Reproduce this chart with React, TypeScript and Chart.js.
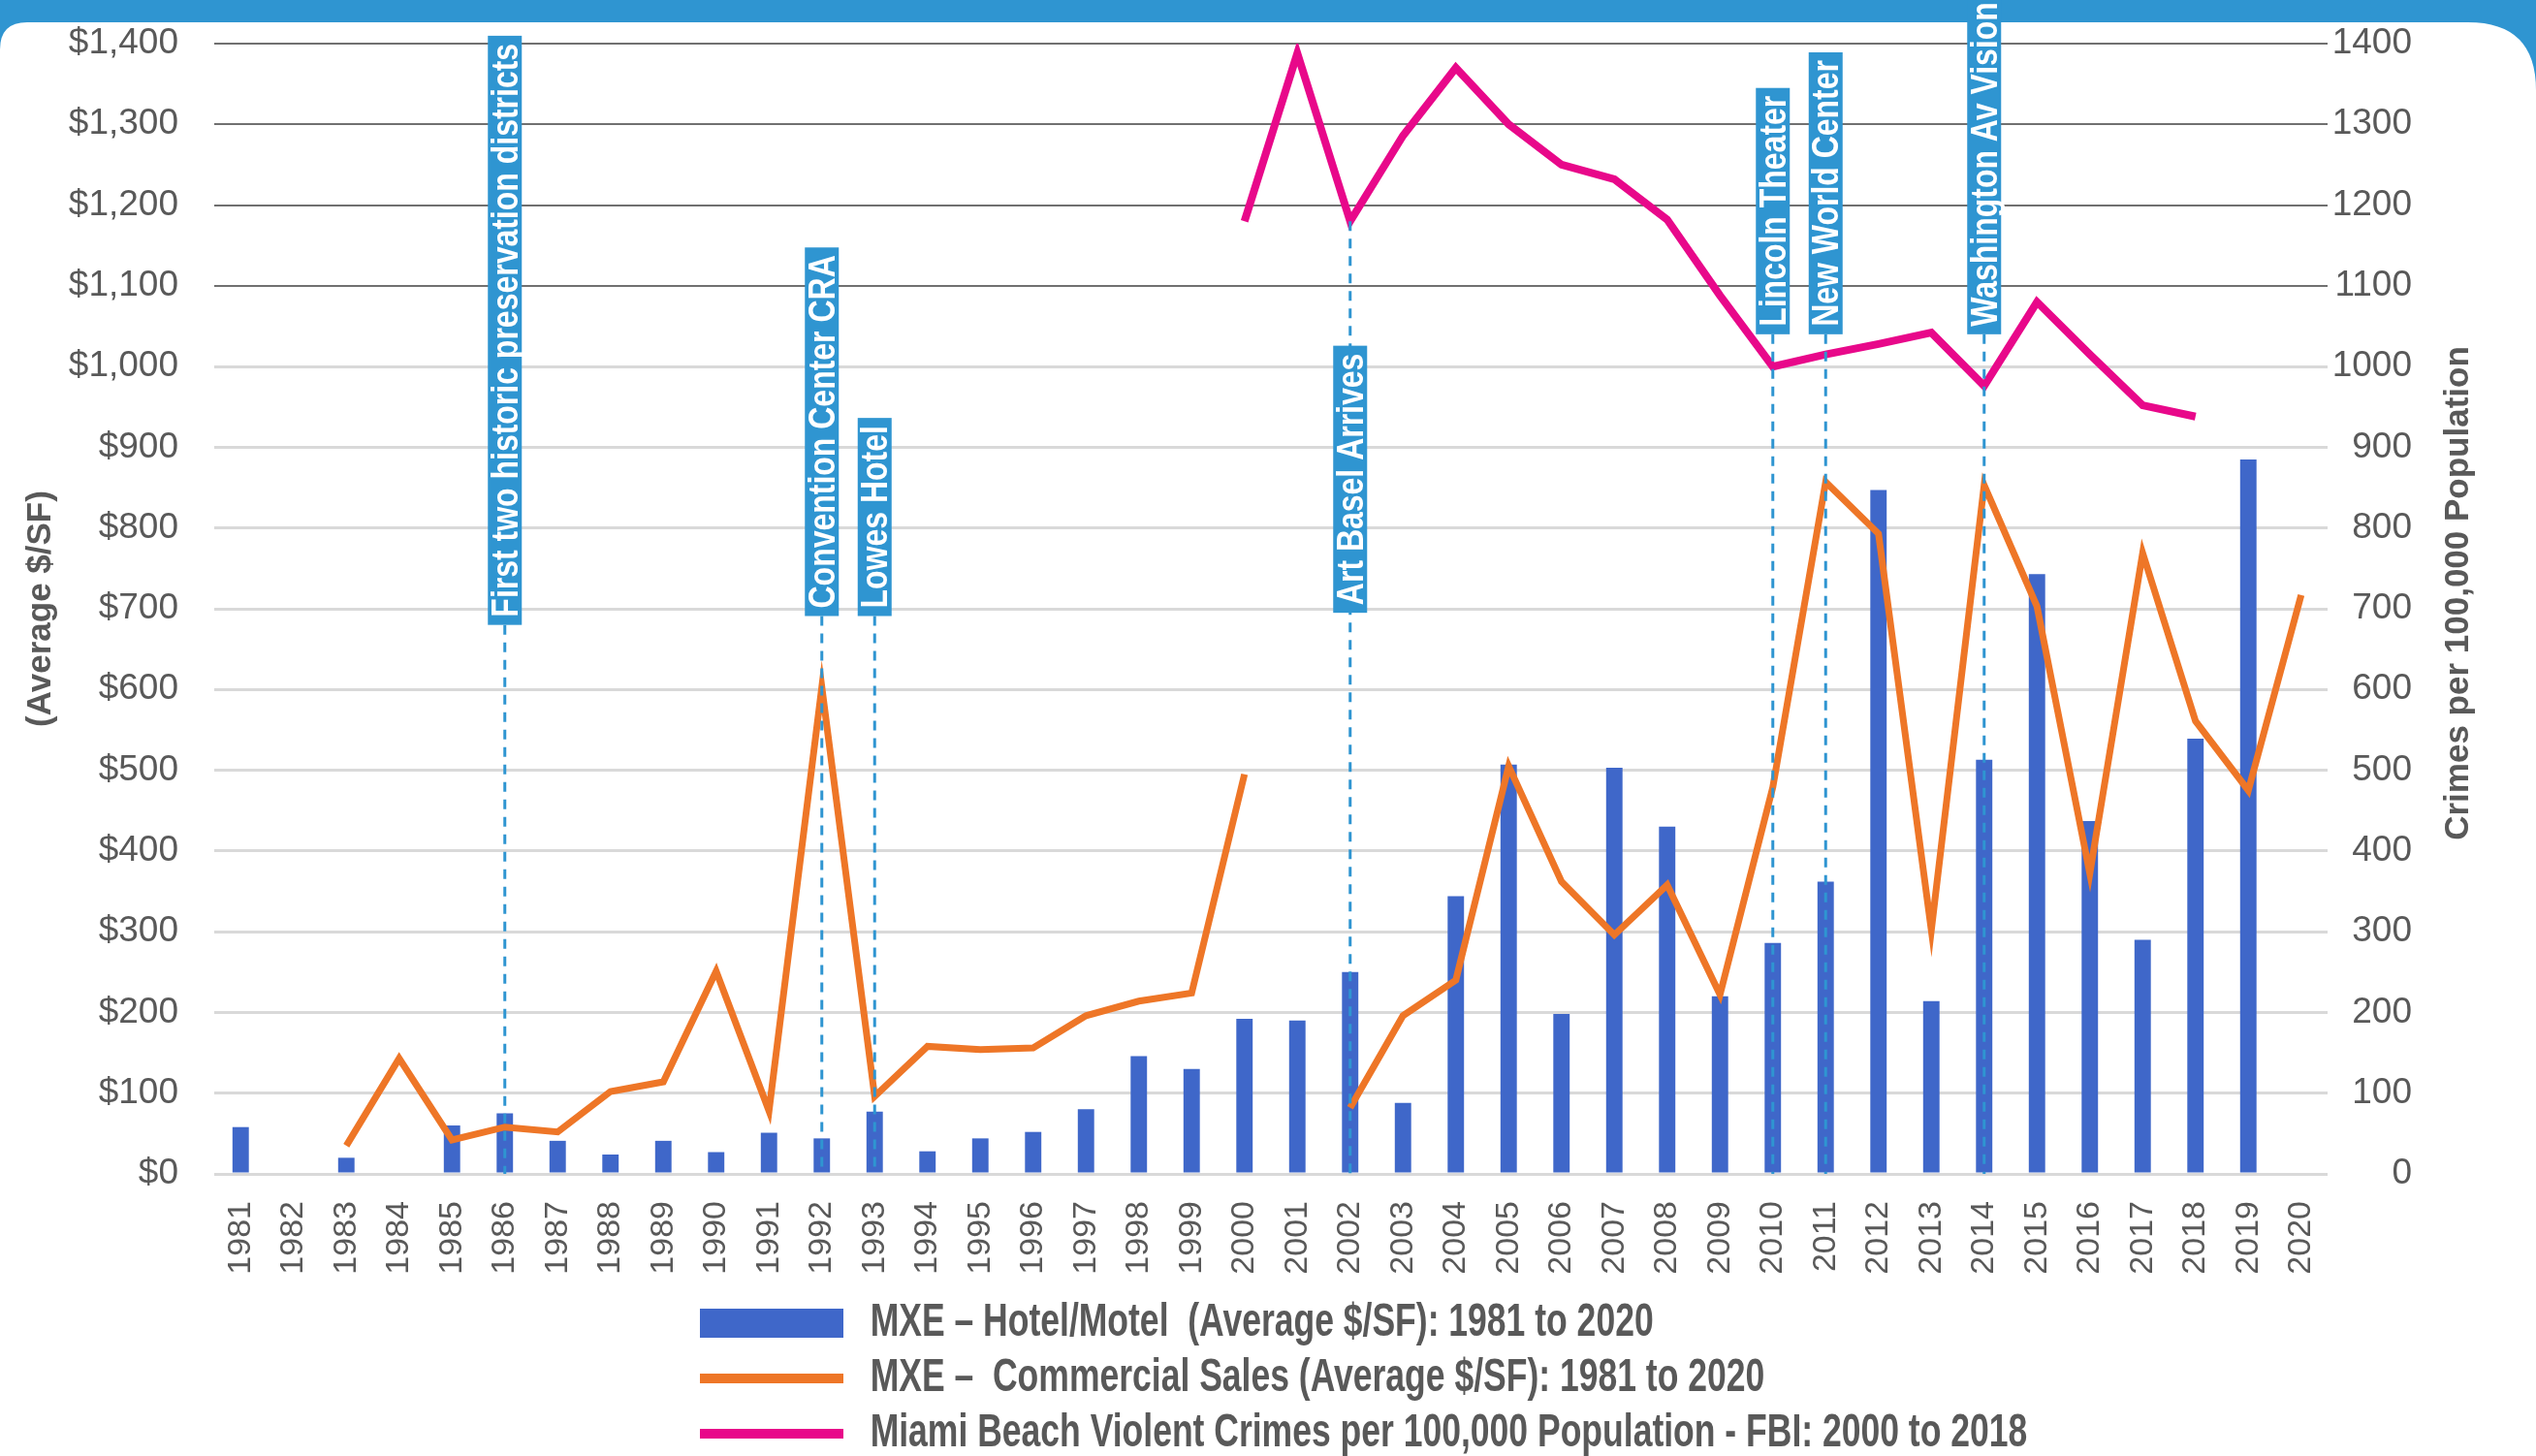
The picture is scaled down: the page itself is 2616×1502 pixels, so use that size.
import React, { useEffect, useRef } from 'react';
import { Chart, registerables } from 'chart.js';

Chart.register(...registerables);

const years = [
  '1981', '1982', '1983', '1984', '1985', '1986', '1987', '1988', '1989', '1990',
  '1991', '1992', '1993', '1994', '1995', '1996', '1997', '1998', '1999', '2000',
  '2001', '2002', '2003', '2004', '2005', '2006', '2007', '2008', '2009', '2010',
  '2011', '2012', '2013', '2014', '2015', '2016', '2017', '2018', '2019', '2020',
];

const hotelMotelValues = [
  58, null, 20, null, 60, 75, 41, 24, 41, 27,
  51, 44, 77, 28, 44, 52, 80, 146, 130, 192,
  190, 250, 88, 344, 507, 198, 503, 430, 220, 286,
  362, 847, 214, 513, 743, 437, 290, 539, 885, null,
];

const commercialValues = [
  null, null, 35, 143, 42, 58, 52, 102, 114, 251,
  78, 603, 96, 158, 154, 156, 196, 214, 224, 495,
  null, 82, 196, 240, 505, 362, 296, 358, 222, 479,
  857, 793, 302, 853, 703, 372, 769, 561, 475, 717,
];

const crimeValues = [
  null, null, null, null, null, null, null, null, null, null,
  null, null, null, null, null, null, null, null, null, 1180,
  1388, 1180, 1286, 1370, 1300, 1250, 1232, 1182, 1088, 1000,
  1015, 1028, 1042, 976, 1080, 1015, 952, 938, null, null,
];

const seriesLabels = [
  'MXE – Hotel/Motel  (Average $/SF): 1981 to 2020',
  'MXE –  Commercial Sales (Average $/SF): 1981 to 2020',
  'Miami Beach Violent Crimes per 100,000 Population - FBI: 2000 to 2018',
];

const leftAxisTitle = '(Average $/SF)';
const rightAxisTitle = 'Crimes per 100,000 Population';

const annotationYears = ['1986', '1992', '1993', '2002', '2010', '2011', '2014'];
const annotationTexts = [
  'First two historic preservation districts',
  'Convention Center CRA',
  'Lowes Hotel',
  'Art Basel Arrives',
  'Lincoln Theater',
  'New World Center',
  'Washington Av Vision',
];
const annotationBoxBottoms = [680, 691, 691, 695, 1040, 1040, 1040];
const annotationLineTops = [680, 691, 691, 1180, 1040, 1040, 1040];
const annotationAboveBanner = [false, false, false, false, false, false, true];

const GRAY = '#595959';
const BANNER_BLUE = '#2F95D1';
const BAR_BLUE = '#3F67C9';
const ORANGE = '#EE7627';
const PINK = '#E8088A';
const FONT_MAIN = '"Liberation Sans", Arial, sans-serif';

const LEGEND_LEFT = 722;
const LEGEND_SX = 0.74;
const LEGEND_SWATCH = 148;

export default function App() {
  const ref = useRef<HTMLCanvasElement>(null);

  useEffect(() => {
    document.body.style.margin = '0';
    const canvas = ref.current;
    if (!canvas) return;

    const drawBox = (chart: any, i: number) => {
      const ctx = chart.ctx;
      const xs = chart.scales.x;
      const ys = chart.scales.y;
      const idx = years.indexOf(annotationYears[i]);
      const x = xs.getPixelForValue(idx);
      const yb = ys.getPixelForValue(annotationBoxBottoms[i]);
      const fs = 39;
      const condense = 0.82;
      const pad = 8;
      const bw = 35;
      ctx.save();
      ctx.font = `bold ${fs}px ${FONT_MAIN}`;
      const tw = ctx.measureText(annotationTexts[i]).width * condense;
      const len = tw + pad * 2;
      ctx.fillStyle = BANNER_BLUE;
      ctx.fillRect(x - bw / 2, yb - len, bw, len);
      ctx.translate(x, yb - pad);
      ctx.rotate(-Math.PI / 2);
      ctx.scale(condense, 1);
      ctx.fillStyle = '#FFFFFF';
      ctx.textAlign = 'left';
      ctx.textBaseline = 'middle';
      ctx.fillText(annotationTexts[i], 0, 2);
      ctx.restore();
    };

    const overlayPlugin = {
      id: 'overlay',
      afterLayout(chart: any) {
        const lg = chart.legend;
        if (lg) {
          const padding = lg.options.labels.padding;
          lg.left = LEGEND_LEFT - padding;
          lg.right = 3000;
          lg.top += 11;
          lg.bottom += 11;
          const proto = Object.getPrototypeOf(lg);
          lg.draw = function (...args: any[]) {
            const ctx = this.ctx;
            ctx.save();
            ctx.translate(LEGEND_LEFT, 0);
            ctx.scale(LEGEND_SX, 1);
            ctx.translate(-LEGEND_LEFT, 0);
            proto.draw.apply(this, args);
            ctx.restore();
          };
        }
      },
      afterDatasetsDraw(chart: any) {
        const ctx = chart.ctx;
        const xs = chart.scales.x;
        const ys = chart.scales.y;
        const y0 = ys.getPixelForValue(0);
        ctx.save();
        ctx.strokeStyle = BANNER_BLUE;
        ctx.lineWidth = 3;
        ctx.setLineDash([10, 8]);
        annotationYears.forEach((yr, i) => {
          const x = xs.getPixelForValue(years.indexOf(yr));
          ctx.beginPath();
          ctx.moveTo(x, ys.getPixelForValue(annotationLineTops[i]));
          ctx.lineTo(x, y0);
          ctx.stroke();
        });
        ctx.restore();
        annotationYears.forEach((_, i) => {
          if (!annotationAboveBanner[i]) drawBox(chart, i);
        });
      },
      afterDraw(chart: any) {
        const ctx = chart.ctx;
        const W = chart.width;
        const bh = 23;
        ctx.save();
        ctx.fillStyle = BANNER_BLUE;
        ctx.fillRect(0, 0, W, bh);
        const rl = 28;
        ctx.beginPath();
        ctx.moveTo(0, bh);
        ctx.lineTo(rl, bh);
        ctx.quadraticCurveTo(0, bh, 0, bh + rl);
        ctx.closePath();
        ctx.fill();
        const rr = 70;
        ctx.beginPath();
        ctx.moveTo(W, bh);
        ctx.lineTo(W - rr, bh);
        ctx.quadraticCurveTo(W, bh, W, bh + rr);
        ctx.closePath();
        ctx.fill();
        ctx.restore();

        annotationYears.forEach((_, i) => {
          if (annotationAboveBanner[i]) drawBox(chart, i);
        });

        const ca = chart.chartArea;
        ctx.save();
        ctx.translate(W - 80, (ca.top + ca.bottom) / 2 - 16);
        ctx.rotate(-Math.PI / 2);
        ctx.font = `bold 35px ${FONT_MAIN}`;
        ctx.fillStyle = GRAY;
        ctx.textAlign = 'center';
        ctx.textBaseline = 'middle';
        ctx.fillText(rightAxisTitle, 0, 0);
        ctx.restore();
      },
    };

    const chart = new Chart(canvas, {
      type: 'bar',
      data: {
        labels: years,
        datasets: [
          {
            type: 'bar',
            label: seriesLabels[0],
            data: hotelMotelValues as any,
            backgroundColor: BAR_BLUE,
            borderWidth: 0,
            barPercentage: 0.62,
            categoryPercentage: 0.5,
            yAxisID: 'y',
            order: 3,
          },
          {
            type: 'line',
            label: seriesLabels[1],
            data: commercialValues as any,
            borderColor: ORANGE,
            backgroundColor: ORANGE,
            borderWidth: 7,
            pointRadius: 0,
            tension: 0,
            spanGaps: false,
            yAxisID: 'y',
            order: 2,
          },
          {
            type: 'line',
            label: seriesLabels[2],
            data: crimeValues as any,
            borderColor: PINK,
            backgroundColor: PINK,
            borderWidth: 8,
            pointRadius: 0,
            tension: 0,
            spanGaps: false,
            yAxisID: 'y1',
            order: 1,
          },
        ] as any,
      },
      options: {
        responsive: false,
        animation: false,
        devicePixelRatio: 1,
        layout: { padding: { top: 45, left: 0, right: 128, bottom: 0 } },
        plugins: {
          tooltip: { enabled: false },
          legend: {
            position: 'bottom',
            align: 'start',
            fullSize: false,
            labels: {
              usePointStyle: true,
              pointStyleWidth: LEGEND_SWATCH / LEGEND_SX,
              boxHeight: 30,
              padding: 9,
              color: GRAY,
              font: { family: FONT_MAIN, size: 48, weight: 'bold' },
              generateLabels: (ch: any) => {
                const base = (Chart.defaults.plugins.legend.labels as any).generateLabels(ch);
                base.sort((a: any, b: any) => a.datasetIndex - b.datasetIndex);
                return base.map((it: any) => {
                  const isBar = it.datasetIndex === 0;
                  const ds: any = ch.data.datasets[it.datasetIndex];
                  return {
                    ...it,
                    text: ' ' + it.text,
                    pointStyle: isBar ? 'rect' : 'line',
                    fillStyle: isBar ? ds.backgroundColor : ds.borderColor,
                    strokeStyle: isBar ? ds.backgroundColor : ds.borderColor,
                    lineWidth: isBar ? 0 : 10,
                    fontColor: GRAY,
                  };
                });
              },
            },
          },
        },
        scales: {
          x: {
            offset: true,
            grid: { display: false },
            border: { display: false },
            ticks: {
              autoSkip: false,
              maxRotation: 90,
              minRotation: 90,
              padding: 20,
              color: GRAY,
              font: { family: FONT_MAIN, size: 34 },
            },
            afterFit: (s: any) => { s.height = 110; },
          },
          y: {
            position: 'left',
            min: 0,
            max: 1400,
            ticks: {
              stepSize: 100,
              padding: 37,
              color: GRAY,
              font: { family: FONT_MAIN, size: 37 },
              callback: (v: any) => '$' + Number(v).toLocaleString('en-US'),
            },
            grid: {
              drawTicks: false,
              color: (c: any) => (c.tick && c.tick.value >= 1100 ? '#707070' : '#D9D9D9'),
              lineWidth: (c: any) => (c.tick && c.tick.value >= 1100 ? 2 : 3),
            },
            border: { display: false },
            title: {
              display: true,
              text: leftAxisTitle,
              color: GRAY,
              font: { family: FONT_MAIN, size: 35, weight: 'bold' },
              padding: { top: 21, bottom: 0 },
            },
            afterFit: (s: any) => { s.width = 221; s.paddingTop = 0; s.paddingBottom = 0; },
          },
          y1: {
            position: 'right',
            min: 0,
            max: 1400,
            ticks: {
              stepSize: 100,
              padding: 6,
              crossAlign: 'far',
              color: GRAY,
              font: { family: FONT_MAIN, size: 37 },
              callback: (v: any) => String(v),
            },
            grid: { drawOnChartArea: false, drawTicks: false },
            border: { display: false },
            afterFit: (s: any) => { s.width = 87; s.paddingTop = 0; s.paddingBottom = 0; },
          },
        },
      } as any,
      plugins: [overlayPlugin],
    });

    return () => chart.destroy();
  }, []);

  return (
    <canvas
      ref={ref}
      width={2616}
      height={1502}
      style={{ display: 'block', width: 2616, height: 1502 }}
    />
  );
}
